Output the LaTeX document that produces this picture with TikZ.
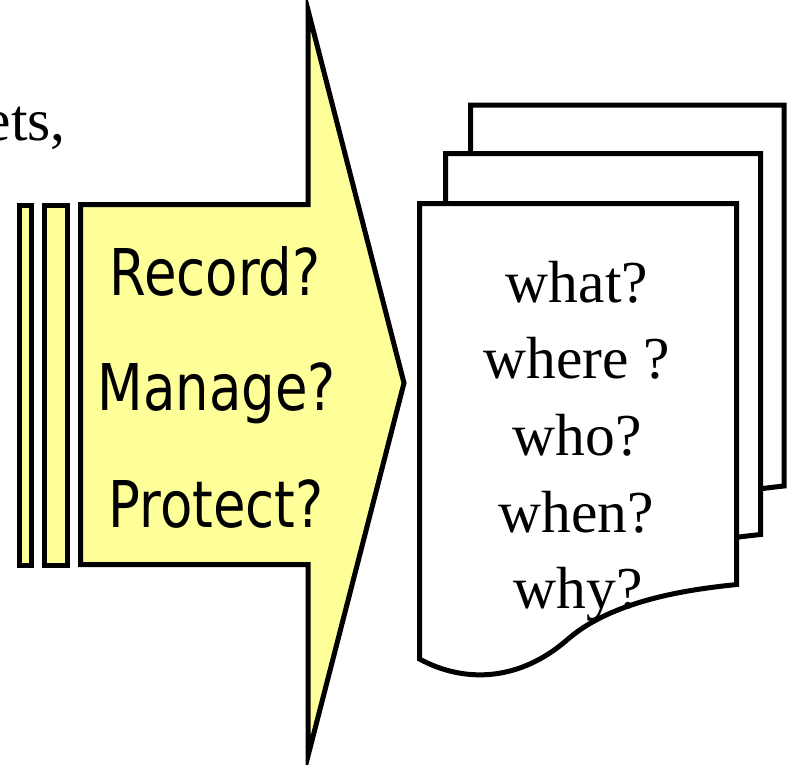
\documentclass[tikz,border=0pt]{standalone}
\usepackage{fontspec}
\usepackage{graphicx}
\setmainfont{Liberation Serif}
\newfontfamily\sansf{DejaVu Sans}
\definecolor{arrowyellow}{RGB}{255,255,153}
\tikzset{
  outline/.style={draw=black, line width=5pt, line join=miter, miter limit=20},
  yellowpart/.style={outline, fill=arrowyellow},
  docpart/.style={outline, fill=white},
  sanslabel/.style={inner sep=0pt, anchor=base, font=\sansf\fontsize{64.5}{70}\selectfont},
  seriflabel/.style={inner sep=0pt, anchor=base, font=\fontsize{59.5}{70}\selectfont},
}
\newcommand\mydocshape[3]{%
  \begin{scope}[shift={(#1,#2)}, xscale=#3/317]
    \draw[docpart] (317,381) -- (317,0) -- (0,0) -- (0,455.5)
      .. controls (45,480) and (100,478) .. (148,436)
      .. controls (196,394) and (280,385) .. (317,381) -- cycle;
  \end{scope}}
\begin{document}
\begin{tikzpicture}[x=1pt, y=-1pt]
  \useasboundingbox (0,0) rectangle (790,764);
  \clip (0,0) rectangle (790,764);
  % cut-off text at top left
  \node[seriflabel, anchor=base east] (ets) at (66,140) {ets,};
  % strips
  \draw[yellowpart] (19.5,205) rectangle (31.5,565);
  \draw[yellowpart] (44,205) rectangle (67.5,565);
  % big arrow
  \draw[yellowpart] (80.5,204.5) -- (308,204.5) -- (308,10) -- (404,383)
     -- (308,756) -- (308,564.5) -- (80.5,564.5) -- cycle;
  \node[sanslabel] (record) at (215,295) {\scalebox{0.82}[1]{Record?}};
  \node[sanslabel] (manage) at (216.5,410) {\scalebox{0.82}[1]{Manage?}};
  \node[sanslabel] (protect) at (216,527) {\scalebox{0.82}[1]{Protect?}};
  % documents
  \mydocshape{470.5}{105}{313.5}
  \mydocshape{445.5}{153.5}{315}
  \mydocshape{419.5}{203.5}{317}
  \node[seriflabel] (what) at (577,302) {what?};
  \node[seriflabel] (where) at (577,378) {where ?};
  \node[seriflabel] (who) at (577,455) {who?};
  \node[seriflabel] (when) at (576,532) {when?};
  \node[seriflabel] (why) at (578,608) {why?};
\end{tikzpicture}
\end{document}
